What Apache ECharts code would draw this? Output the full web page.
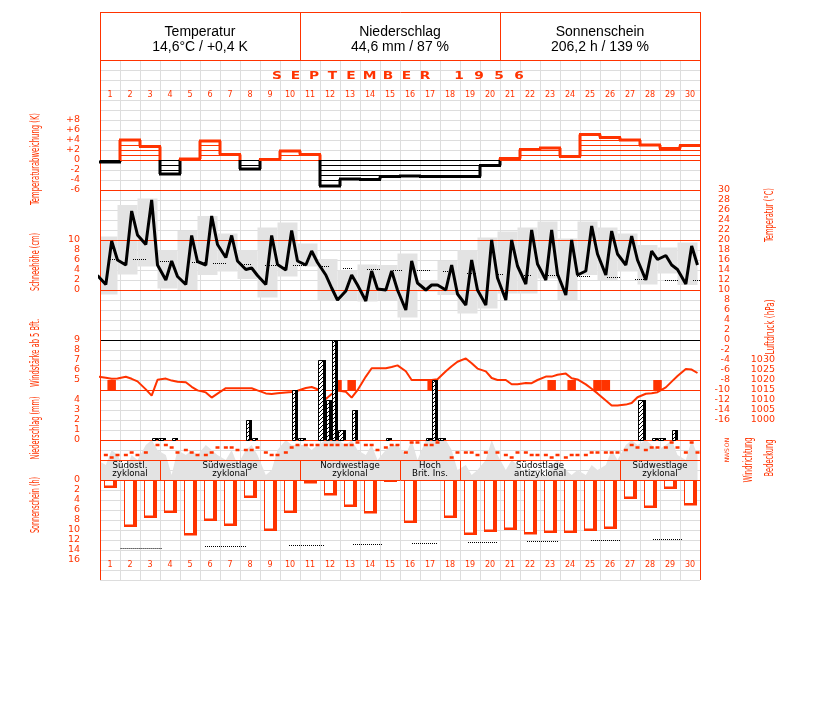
<!DOCTYPE html>
<html><head><meta charset="utf-8">
<script src="https://cdn.jsdelivr.net/npm/echarts@6/dist/echarts.min.js"></script>
<style>html,body{margin:0;padding:0;background:#fff}#c{width:827px;height:702px}</style>
</head><body><div id="c"></div>
<script>
// ---------------- DATA ----------------
const dayLabels = ['1','2','3','4','5','6','7','8','9','10','11','12','13','14','15','16','17','18','19','20','21','22','23','24','25','26','27','28','29','30'];
const titleLetters = ['S','E','P','T','E','M','B','E','R'];
const titleYear = ['1','9','5','6'];
const headerTitles = ['Temperatur','Niederschlag','Sonnenschein'];
const headerValues = ['14,6°C / +0,4 K','44,6 mm / 87 %','206,2 h / 139 %'];

// daily temperature anomaly (K)
const tempAnomaly = [-0.4,4.0,2.7,-2.8,0.2,3.8,1.1,-1.8,0.1,1.8,1.1,-5.2,-3.8,-3.9,-3.3,-3.2,-3.3,-3.3,-3.3,-1.1,0.3,2.1,2.4,0.7,5.1,4.5,4.0,3.0,2.3,2.9];
// temperature at 7h, 14h, 21h (°C)
const tempPrev21 = 12.9;
const temp07 = [11.1,15.0,19.1,12.0,11.1,15.0,16.5,14.1,11.1,14.0,15.0,13.0,9.8,7.8,10.0,6.0,10.0,10.0,7.0,7.0,8.0,11.2,12.0,9.0,13.8,13.0,15.0,12.0,16.9,11.2];
const temp14 = [19.8,25.8,28.0,15.8,20.9,24.8,20.9,14.4,20.9,21.9,17.8,10.4,13.0,13.8,13.8,15.8,11.0,15.0,16.0,20.0,20.0,22.0,22.0,20.0,22.8,21.8,20.8,17.8,15.0,18.8];
const temp21 = [16.0,21.0,15.0,12.7,15.7,19.1,15.8,12.9,15.1,15.8,15.5,8.0,11.0,10.2,10.0,11.4,11.0,9.2,10.0,12.4,14.8,15.2,13.2,13.0,17.2,17.2,16.0,16.1,14.1,15.0];
// daily extremes (°C)
const tempMax = [20.7,27.0,28.3,18.0,21.8,24.8,21.3,18.0,22.5,23.5,19.3,16.2,14.0,15.1,15.0,17.3,12.0,15.8,18.0,20.5,21.7,22.5,23.7,20.3,23.7,22.5,21.3,19.0,18.5,19.5];
const tempMin = [9.1,13.1,14.7,10.3,10.0,13.0,13.7,12.2,8.5,12.7,14.7,8.0,8.0,7.7,8.0,4.5,9.7,9.0,5.3,6.3,9.3,9.3,12.3,8.0,13.0,12.0,13.7,11.1,13.3,11.0];
// normal daily mean temperature, dotted pieces [fromDay, toDay, °C]
const tempNormalSegs = [[0.4,1.0,16.3],[1.65,2.35,16.2],[3.0,3.6,15.8],[4.6,5.25,15.7],[5.65,6.35,15.5],[7.1,7.6,15.3],[8.25,8.85,15.1],[9.65,10.25,15.0],[11.1,11.5,14.8],[12.15,12.65,14.5],[13.35,14.0,14.3],[14.65,15.15,14.1],[15.85,16.5,14.0],[17.15,17.6,13.8],[18.35,18.85,13.5],[19.9,20.15,13.3],[21.1,21.6,13.1],[22.4,23.0,13.0],[23.85,24.5,12.8],[25.35,26.0,12.6],[26.75,27.25,12.3],[28.25,28.9,12.1],[29.65,30.0,12.0]];

// air pressure (hPa) at 7h, 14h, 21h
const pressurePrev21 = 1021.8;
const pressure07 = [1021.1,1021.6,1015.3,1020.7,1018.9,1013.8,1015.9,1015.9,1013.3,1013.8,1016.0,1010.5,1014.1,1021.7,1025.9,1024.4,1020.0,1024.4,1030.8,1024.3,1020.0,1018.5,1021.7,1023.2,1017.8,1009.7,1007.7,1013.1,1016.3,1025.5];
const pressure14 = [1020.6,1020.6,1012.2,1019.7,1016.6,1011.2,1015.9,1015.9,1013.0,1014.0,1016.5,1013.0,1011.2,1025.9,1026.5,1020.0,1020.0,1026.9,1028.4,1021.0,1017.9,1018.4,1021.7,1020.9,1015.6,1007.2,1008.5,1013.4,1019.2,1025.2];
const pressure21 = [1020.7,1019.3,1020.1,1019.1,1014.8,1013.2,1015.9,1014.8,1013.4,1014.6,1015.4,1014.8,1014.9,1025.9,1027.3,1020.0,1020.4,1029.1,1025.7,1020.0,1017.9,1020.0,1022.6,1020.3,1013.3,1007.2,1011.4,1013.9,1022.0,1023.5];

// wind force >= 5 Bft (observation day, hour, Bft)
const windDay  = [1,12,13,17,23,24,25,26,28];
const windHour = [14,21,14,14,14,14,21,7,21];
const windBft  = [5,5,5,5,5,5,5,5,5];

// precipitation per observation interval (day, from hour, to hour, mm)
const precipDay  = [3,3,4,8,8,10,10,11,12,12,12,13,15,17,17,17,27,28,28,29];
const precipFrom = [14,21,14,7,14,14,21,21,7,14,21,14,7,7,14,21,21,14,21,14];
const precipTo   = [21,31,21,14,21,21,31,31,14,21,31,21,14,14,21,31,31,21,31,21];
const precipMm   = [0.25,0.25,0.25,2.0,0.25,5.0,0.25,8.0,4.0,10.0,1.0,3.0,0.25,0.25,6.0,0.25,4.0,0.25,0.25,1.0];

// cloud cover (octas) at 7h, 14h, 21h
const cloudPrev21 = 4;
const cloud07 = [3,2,7,5,5,7,4,6,1,8,7,8,7,5,6,5,8,8,3,4,2,1,1,2,1,3,7,8,7,4];
const cloud14 = [6,5,8,1,6,6,6,7,2,7,6,8,8,7,7,8,8,6,1,8,4,2,3,1,3,6,8,7,8,8];
const cloud21 = [5,4,6,6,5,5,3,5,6,7,7,8,6,4,7,4,8,2,2,5,3,1,4,2,2,4,7,6,5,5];

// wind direction (degrees) at 7h, 14h, 21h
const windDir07 = [270,270,225,90,180,270,135,180,225,225,90,90,90,90,135,225,90,null,225,225,270,225,270,315,270,225,180,180,135,225];
const windDir14 = [315,225,null,135,225,225,135,180,270,135,90,90,90,90,90,45,90,315,225,null,315,270,315,270,225,225,90,135,45,45];
const windDir21 = [270,270,90,225,270,135,180,135,270,90,90,90,45,180,90,45,45,225,270,225,225,270,270,270,225,225,135,135,135,225];

// sunshine duration (h)
const sunHours = [1.6,9.4,7.6,6.6,11.1,8.2,9.2,3.6,10.2,6.6,0.7,3.1,5.4,6.7,0.4,8.6,0,7.6,11.0,10.4,10.0,10.9,10.6,10.6,10.2,9.8,3.8,5.6,1.8,5.1];
// astronomically possible sunshine, dotted pieces [fromDay, toDay, h]
const sunMaxSegs = [[1.03,3.12,13.5],[5.25,7.3,13.2],[9.45,11.2,13.0],[12.65,14.1,12.8],[15.6,16.9,12.6],[18.4,19.85,12.3],[21.35,22.9,12.1],[24.55,26.0,12.0],[27.65,29.15,11.8]];

// weather types
const wtStart = [1,4,11,16,19,27];
const wtEnd   = [3,10,15,18,26,30];
const wtLine1 = ['Südostl.','Südwestlage','Nordwestlage','Hoch','Südostlage','Südwestlage'];
const wtLine2 = ['zyklonal','zyklonal','zyklonal','Brit. Ins.','antizyklonal','zyklonal'];

// ---------------- STYLE ----------------
const RED = '#ff3300', GRIDC = '#dddddd', FILL = '#e3e3e3';
const TICKFONT = '"DejaVu Sans", sans-serif';

// ---------------- BUILD ----------------
const chart = echarts.init(document.getElementById('c'), null, {renderer:'canvas'});

function obsSeries(prev, a7, a14, a21){
  const out = [[-0.125, prev]];
  for (let i = 0; i < a7.length; i++){
    out.push([i + 7/24, a7[i]], [i + 14/24, a14[i]], [i + 21/24, a21[i]]);
  }
  return out;
}
const tempLine = obsSeries(tempPrev21, temp07, temp14, temp21);
const pressLine = obsSeries(pressurePrev21, pressure07, pressure14, pressure21);
const cloudLine = obsSeries(cloudPrev21, cloud07, cloud14, cloud21);
const windDirPts = [];
for (let i = 0; i < 30; i++){
  [[7,windDir07[i]],[14,windDir14[i]],[21,windDir21[i]]].forEach(([h,v]) => { if (v !== null) windDirPts.push([i + h/24, v]); });
}

// hatch pattern
const hatch = (function(){
  const c = document.createElement('canvas'); c.width = 4; c.height = 4;
  const g = c.getContext('2d'); g.fillStyle = '#fff'; g.fillRect(0,0,4,4);
  g.fillStyle = '#000';
  g.fillRect(3,0,1,1); g.fillRect(2,1,1,1); g.fillRect(1,2,1,1); g.fillRect(0,3,1,1);
  return c;
})();

const hiddenX = (gi) => ({gridIndex:gi, type:'value', min:0, max:30, show:false});
function labelAxis(gi, pos, min, max, interval, fmt, margin, extra){
  const ax = {
    gridIndex:gi, type:'value', position:pos, min, max, interval,
    axisLine:{show:false}, axisTick:{show:false}, splitLine:{show:false},
    axisLabel:{show:true, color:RED, fontSize:9.5, lineHeight:9, fontFamily:TICKFONT, margin, formatter:fmt,
      showMinLabel:true, showMaxLabel:true, hideOverlap:false, align:'right'}
  };
  return Object.assign(ax, extra || {});
}

const option = {
  animation:false,
  backgroundColor:'#fff',
  grid:[
    {left:100, top:60, width:600, height:520},   // 0 background grid
    {left:100, top:110, width:600, height:80},   // 1 anomaly
    {left:100, top:190, width:600, height:230},  // 2 temperature
    {left:100, top:340, width:600, height:100},  // 3 wind / pressure / precipitation
    {left:100, top:440, width:600, height:40},   // 4 cloud / wind direction / weather type
    {left:100, top:480, width:600, height:80},   // 5 sunshine
    {left:100, top:100, width:600, height:461}   // 6 day labels
  ],
  xAxis:[
    {gridIndex:0, type:'value', min:0, max:30, interval:1, axisLine:{show:false}, axisTick:{show:false}, axisLabel:{show:false}, splitLine:{show:true, lineStyle:{color:GRIDC, width:1}}},
    hiddenX(1), hiddenX(2), hiddenX(3), hiddenX(4), hiddenX(5),
    {gridIndex:6, type:'category', data:dayLabels, position:'top', axisLine:{show:false}, axisTick:{show:false}, splitLine:{show:false}, axisLabel:{interval:0, color:RED, fontSize:8, fontFamily:TICKFONT, margin:1, hideOverlap:false}},
    {gridIndex:6, type:'category', data:dayLabels, position:'bottom', axisLine:{show:false}, axisTick:{show:false}, splitLine:{show:false}, axisLabel:{interval:0, color:RED, fontSize:8, fontFamily:TICKFONT, margin:0, hideOverlap:false}}
  ],
  yAxis:[
    {gridIndex:0, type:'value', min:0, max:52, interval:1, axisLine:{show:false}, axisTick:{show:false}, axisLabel:{show:false}, splitLine:{show:true, lineStyle:{color:GRIDC, width:1}}},
    labelAxis(1, 'left', -6, 10, 2, v => v === 10 ? '' : (v > 0 ? '+' + v : String(v)), 20),
    labelAxis(2, 'right', -16, 30, 2, v => String(v), 30),
    labelAxis(2, 'left', -26, 20, 2, v => (v >= 0 && v <= 10) ? String(v) : '', 20),
    labelAxis(3, 'left', -1, 9, 1, v => v >= 5 ? String(v) : '', 20),
    labelAxis(3, 'left', 0, 10, 1, v => v <= 4 ? String(v) : '', 20),
    labelAxis(3, 'right', 990, 1040, 5, v => (v >= 1000 && v <= 1030) ? String(v) : '', 75),
    {gridIndex:4, type:'value', min:0, max:8, show:false},
    {gridIndex:4, type:'value', min:0, max:720, inverse:true, show:false},
    labelAxis(5, 'left', 0, 16, 2, v => String(v), 20, {inverse:true}),
    {gridIndex:6, type:'value', show:false}
  ],
  series:[
    // temperature anomaly steps
    {type:'custom', xAxisIndex:1, yAxisIndex:1, z:20, data: tempAnomaly.map((v,i) => [i + 0.5, v]),
      renderItem(params, api){
        const i = params.dataIndex, v = tempAnomaly[i];
        const xa = api.coord([i, 0])[0], xb = api.coord([i + 1, 0])[0];
        const yz = api.coord([0, 0])[1];
        const col = v >= 0 ? RED : '#000';
        const ch = [];
        const n = Math.ceil(Math.abs(v) - 1e-6);
        const sg = v >= 0 ? 1 : -1;
        for (let k = 0; k < n; k++){
          const y = Math.round(api.coord([0, sg * k])[1]) + 0.5;
          ch.push({type:'line', shape:{x1:xa, y1:y, x2:xb, y2:y}, style:{stroke:col, lineWidth:1}});
        }
        const yv = api.coord([0, v])[1];
        ch.push({type:'line', shape:{x1:xa - 1, y1:yv, x2:xb + 1, y2:yv}, style:{stroke:col, lineWidth:3}});
        if (i < tempAnomaly.length - 1){
          const yn = api.coord([0, tempAnomaly[i + 1]])[1];
          const top = Math.min(yv, yn), bot = Math.max(yv, yn);
          if (top < yz) ch.push({type:'line', shape:{x1:xb, y1:top, x2:xb, y2:Math.min(bot, yz)}, style:{stroke:RED, lineWidth:3}});
          if (bot > yz) ch.push({type:'line', shape:{x1:xb, y1:Math.max(top, yz), x2:xb, y2:bot}, style:{stroke:'#000', lineWidth:3}});
        }
        return {type:'group', children:ch};
      }},
    // temperature daily range boxes
    {type:'custom', xAxisIndex:2, yAxisIndex:2, z:1, data: tempMax.map((v,i) => [i, tempMin[i], v]),
      renderItem(params, api){
        const i = params.dataIndex;
        const t0 = Math.max(0, i - 0.125), t1 = Math.min(30, i + 0.875);
        const p0 = api.coord([t0, tempMax[i]]), p1 = api.coord([t1, tempMin[i]]);
        return {type:'rect', shape:{x:p0[0], y:p0[1], width:p1[0] - p0[0], height:p1[1] - p0[1]}, style:{fill:FILL}};
      }},
    // normal temperature dotted
    {type:'custom', xAxisIndex:2, yAxisIndex:2, z:15, data: tempNormalSegs.map(s => [s[0], s[2]]),
      renderItem(params, api){
        const s = tempNormalSegs[params.dataIndex];
        const a = api.coord([s[0], s[2]]), b = api.coord([s[1], s[2]]);
        const y = Math.round(a[1]) + 0.5;
        return {type:'line', shape:{x1:a[0], y1:y, x2:b[0], y2:y}, style:{stroke:'#000', lineWidth:1, lineDash:[1,1]}};
      }},
    // temperature
    {type:'line', xAxisIndex:2, yAxisIndex:2, z:30, data:tempLine, symbol:'none', clip:true,
      lineStyle:{color:'#000', width:3}},
    // pressure
    {type:'line', xAxisIndex:3, yAxisIndex:6, z:22, data:pressLine, symbol:'none', clip:true,
      lineStyle:{color:RED, width:2}},
    // wind force
    {type:'custom', xAxisIndex:3, yAxisIndex:4, z:21, data: windDay.map((d,i) => [d - 1 + windHour[i]/24, windBft[i]]),
      renderItem(params, api){
        const i = params.dataIndex;
        const t = windDay[i] - 1 + windHour[i]/24;
        const c = api.coord([t, windBft[i]]), b = api.coord([t, 4]);
        return {type:'rect', shape:{x:c[0] - 4.25, y:c[1], width:8.5, height:b[1] - c[1]}, style:{fill:RED}};
      }},
    // precipitation
    {type:'custom', xAxisIndex:3, yAxisIndex:5, z:24, data: precipDay.map((d,i) => [d - 1 + precipFrom[i]/24, precipMm[i]]),
      renderItem(params, api){
        const i = params.dataIndex, d = precipDay[i] - 1;
        const a = api.coord([d + precipFrom[i]/24, precipMm[i]]);
        const b = api.coord([d + precipTo[i]/24, 0]);
        const x0 = Math.round(a[0]), x1 = Math.round(b[0]), y1 = Math.round(a[1]), y0 = Math.round(b[1]);
        const w = x1 - x0;
        return {type:'group', children:[
          {type:'rect', shape:{x:x0 + 0.5, y:y1 + 0.5, width:w - 3, height:y0 - y1}, style:{fill:{image:hatch, repeat:'repeat'}, stroke:'#000', lineWidth:1}},
          {type:'rect', shape:{x:x1 - 3, y:y1, width:3, height:y0 - y1}, style:{fill:'#000'}}
        ]};
      }},
    // cloud cover area
    {type:'line', xAxisIndex:4, yAxisIndex:7, z:1, data:cloudLine, symbol:'none', clip:true,
      lineStyle:{width:0, color:FILL}, areaStyle:{color:FILL, opacity:1}},
    // wind direction dots
    {type:'custom', xAxisIndex:4, yAxisIndex:8, z:25, data:windDirPts,
      renderItem(params, api){
        const c = api.coord(windDirPts[params.dataIndex]);
        return {type:'rect', shape:{x:c[0] - 2, y:c[1] - 1.25, width:4, height:2.5}, style:{fill:RED}};
      }},
    // weather types
    {type:'custom', xAxisIndex:4, yAxisIndex:7, z:35, data: wtStart.map((s,i) => [s - 1, 4]),
      renderItem(params, api){
        const i = params.dataIndex;
        const a = api.coord([wtStart[i] - 1, 4]), b = api.coord([wtEnd[i], 0]);
        const cx = (a[0] + b[0]) / 2;
        const ch = [];
        if (i > 0) ch.push({type:'line', shape:{x1:Math.round(a[0]) + 0.5, y1:a[1], x2:Math.round(a[0]) + 0.5, y2:b[1]}, style:{stroke:RED, lineWidth:1}});
        const f = '8px "DejaVu Sans", sans-serif';
        ch.push({type:'text', x:cx, y:a[1] + 6.3, scaleX:1.08, style:{text:wtLine1[i], fill:'#000', font:f, align:'center', verticalAlign:'middle'}});
        ch.push({type:'text', x:cx, y:a[1] + 14.3, scaleX:1.08, style:{text:wtLine2[i], fill:'#000', font:f, align:'center', verticalAlign:'middle'}});
        return {type:'group', children:ch};
      }},
    // sunshine bars
    {type:'custom', xAxisIndex:5, yAxisIndex:9, z:21, data: sunHours.map((h,i) => [i + 0.5, h]),
      renderItem(params, api){
        const i = params.dataIndex, h = sunHours[i];
        if (!(h > 0)) return null;
        const a = api.coord([i + 0.215, 0]), b = api.coord([i + 0.835, h]);
        const x0 = Math.round(a[0]), x1 = Math.round(b[0]), y0 = a[1], y1 = b[1];
        const ch = [{type:'rect', shape:{x:x0, y:y0, width:x1 - x0, height:y1 - y0}, style:{fill:RED}}];
        if (y1 - y0 > 3) ch.push({type:'rect', shape:{x:x0 + 1, y:y0 + 1, width:x1 - x0 - 5, height:y1 - y0 - 3.5}, style:{fill:'#fff'}});
        return {type:'group', children:ch};
      }},
    // possible sunshine dotted
    {type:'custom', xAxisIndex:5, yAxisIndex:9, z:22, data: sunMaxSegs.map(s => [s[0], s[2]]),
      renderItem(params, api){
        const s = sunMaxSegs[params.dataIndex];
        const a = api.coord([s[0], s[2]]), b = api.coord([s[1], s[2]]);
        const y = Math.round(a[1]) + 0.5;
        return {type:'line', shape:{x1:a[0], y1:y, x2:b[0], y2:y}, style:{stroke:'#000', lineWidth:1, lineDash:[1,1]}};
      }}
  ],
  graphic:[]
};

// ---------------- FRAME & TEXT ----------------
const G = option.graphic;
const mctx = document.createElement('canvas').getContext('2d');
function hline(y, x1, x2, color){ G.push({type:'line', z:10, silent:true, shape:{x1, y1:y, x2, y2:y}, style:{stroke:color, lineWidth:1}}); }
function vline(x, y1, y2, color){ G.push({type:'line', z:10, silent:true, shape:{x1:x, y1, x2:x, y2}, style:{stroke:color, lineWidth:1}}); }
function txt(x, y, text, font, color, extra){ G.push(Object.assign({type:'text', z:60, silent:true, x, y, style:{text, font, fill:color, align:'center', verticalAlign:'middle'}}, extra || {})); }
function rtxt(x, y, text, len){
  const font = '12px "DejaVu Sans Condensed", "DejaVu Sans", sans-serif';
  mctx.font = font;
  const w = mctx.measureText(text).width;
  txt(x, y, text, font, RED, {rotation:Math.PI/2, scaleX:len / w});
}

[12.5, 60.5, 190.5, 240.5, 290.5, 390.5, 440.5, 460.5, 480.5].forEach(y => hline(y, 100, 701, RED));
hline(340.5, 100, 701, '#000');
vline(100.5, 12, 580, RED); vline(700.5, 12, 580, RED);
vline(300.5, 12, 60, RED); vline(500.5, 12, 60, RED);

headerTitles.forEach((t, i) => {
  txt(200 + 200*i, 32, t, '14px "Liberation Sans", Arial, sans-serif', '#000');
  txt(200 + 200*i, 47, headerValues[i], '14px "Liberation Sans", Arial, sans-serif', '#000');
});
titleLetters.forEach((c, i) => txt(277 + 18.5*i, 76, c, 'bold 11px "DejaVu Sans", sans-serif', RED, {scaleX:1.25}));
titleYear.forEach((c, i) => txt(459 + 20*i, 76, c, 'bold 11px "DejaVu Sans", sans-serif', RED, {scaleX:1.25}));

rtxt(36, 159, 'Temperaturabweichung (K)', 92);
rtxt(36, 262, 'Schneehöhe (cm)', 58);
rtxt(36, 353, 'Windstärke ab 5 Bft.', 68);
rtxt(36, 428, 'Niederschlag (mm)', 63);
rtxt(36, 505, 'Sonnenschein (h)', 56);
rtxt(770, 215, 'Temperatur (°C)', 54);
rtxt(771, 327, 'Luftdruck (hPa)', 55);
rtxt(749, 460, 'Windrichtung', 45);
rtxt(770, 458, 'Bedeckung', 37);
['N','O','S','W','N'].forEach((c, i) => txt(727.5, 440 + 5*i, c, '6px "DejaVu Sans", sans-serif', RED, {rotation:Math.PI/2}));

chart.setOption(option);
</script></body></html>
